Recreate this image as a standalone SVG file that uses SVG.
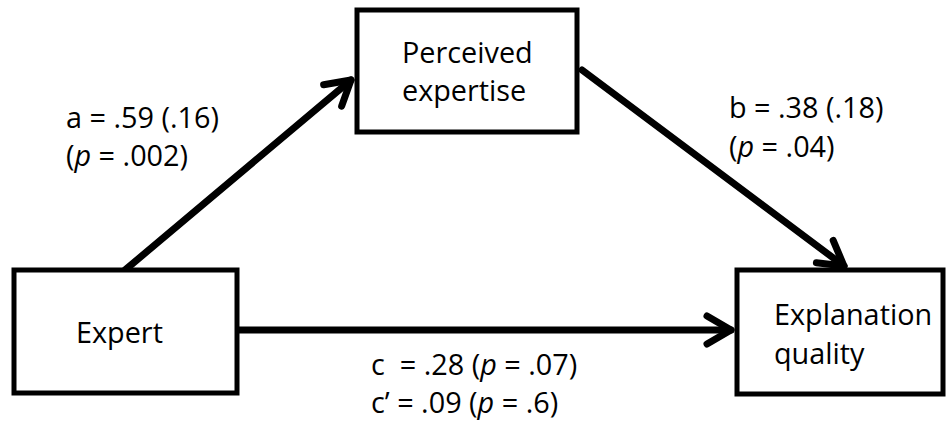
<svg xmlns="http://www.w3.org/2000/svg" width="949" height="425" viewBox="0 0 949 425">
<style>
.box{fill:#fff;stroke:#000;stroke-width:5}
.t{font-family:"Open Sans","Liberation Sans",sans-serif;font-size:28.8px;fill:#000}
.e{stroke:#000;stroke-width:7;fill:none;stroke-linecap:round}
</style>
<defs>
<marker id="ah" markerUnits="userSpaceOnUse" markerWidth="60" markerHeight="60" viewBox="-40 -30 60 60" refX="0" refY="0" orient="auto" overflow="visible">
<path d="M-24,-14 L0,0 L-24,14" fill="none" stroke="#000" stroke-width="7" stroke-linecap="round" stroke-linejoin="round"/>
</marker>
</defs>
<g id="connectors">
<line class="e" x1="125" y1="270" x2="351" y2="80" marker-end="url(#ah)"/>
<line class="e" x1="582" y1="70" x2="844" y2="266" marker-end="url(#ah)"/>
<line class="e" x1="237" y1="330" x2="731" y2="330" marker-end="url(#ah)"/>
</g>
<g id="perceived">
<rect class="box" x="357" y="10" width="220" height="122"/>
<text class="t" x="402" y="63">Perceived</text>
<text class="t" x="402" y="101">expertise</text>
</g>
<g id="expert">
<rect class="box" x="14" y="270" width="223" height="123"/>
<text class="t" x="76" y="343">Expert</text>
</g>
<g id="quality">
<rect class="box" x="737" y="270" width="206" height="124"/>
<text class="t" x="774" y="325">Explanation</text>
<text class="t" x="774" y="364">quality</text>
</g>
<g id="labels">
<text class="t" x="66" y="128">a = .59 (.16)</text>
<text class="t" x="66" y="166">(<tspan font-style="italic">p</tspan> = .002)</text>
<text class="t" x="729" y="118">b = .38 (.18)</text>
<text class="t" x="729" y="157">(<tspan font-style="italic">p</tspan> = .04)</text>
<text class="t" x="371" y="375" xml:space="preserve">c  = .28 (<tspan font-style="italic">p</tspan> = .07)</text>
<text class="t" x="371" y="413">c’ = .09 (<tspan font-style="italic">p</tspan> = .6)</text>
</g>
</svg>
